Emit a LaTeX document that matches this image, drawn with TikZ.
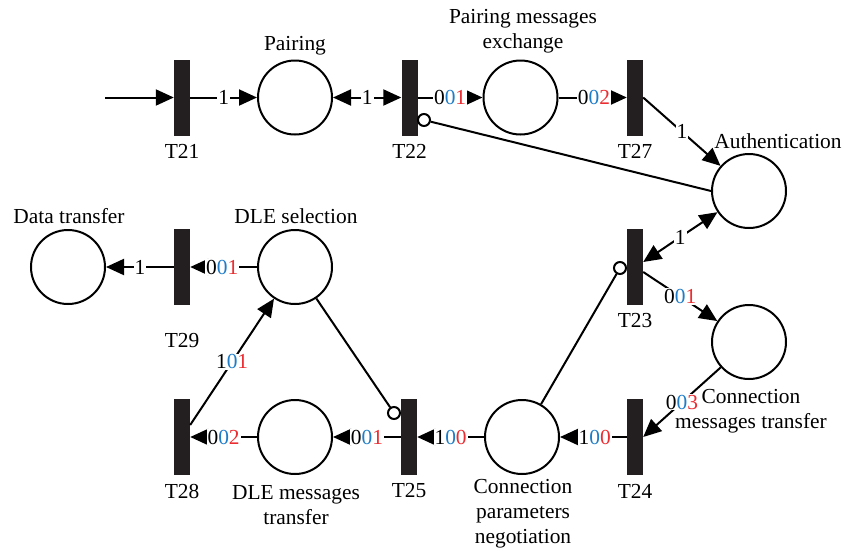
\documentclass[tikz,border=0pt]{standalone}
\usepackage{fontspec}
\setmainfont{Liberation Serif}
\usetikzlibrary{arrows.meta}
\definecolor{tokblue}{RGB}{30,125,200}
\definecolor{tokred}{RGB}{235,45,50}
\definecolor{barcol}{RGB}{35,31,32}
% three-digit token count: black, blue, red
\newcommand\tok[3]{#1\textcolor{tokblue}{#2}\textcolor{tokred}{#3}}

\begin{document}
\begin{tikzpicture}[x=1pt,y=-1pt,
  font=\fontsize{21.4}{25}\selectfont,
  place/.style={circle,draw,line width=2pt,minimum size=74pt,inner sep=0pt},
  trans/.style={rectangle,fill=barcol,minimum width=16pt,minimum height=76pt,inner sep=0pt},
  inhib/.style={circle,draw,line width=2pt,minimum size=12pt,inner sep=0pt,fill=white},
  tip/.tip={Triangle[length=18pt,width=16pt]},
  arc/.style={line width=2pt,-tip},
  barc/.style={line width=2pt,tip-tip},
  plain/.style={line width=2pt},
  w/.style={fill=white,inner sep=1pt},
  txt/.style={align=center,inner sep=0pt}]

\useasboundingbox (0,0) rectangle (844,550);

% places
\node[place] (Pair) at (295,97.5) {};
\node[place] (PME)  at (520.5,97.5) {};
\node[place] (Auth) at (749,191) {};
\node[place] (Data) at (68,267) {};
\node[place] (DSel) at (295,267) {};
\node[place] (CMT)  at (749,342) {};
\node[place] (DMT)  at (295,437) {};
\node[place] (CPN)  at (522,437) {};

% transitions
\node[trans] (T21) at (182,97.5) {};
\node[trans] (T22) at (409.5,97.5) {};
\node[trans] (T27) at (635,97.5) {};
\node[trans] (T29) at (182,267) {};
\node[trans] (T23) at (635,267) {};
\node[trans] (T28) at (182,437) {};
\node[trans] (T25) at (409,437) {};
\node[trans] (T24) at (635,437) {};

% transition names
\node[txt] (lT21) at (182,151) {T21};
\node[txt] (lT22) at (409.5,151) {T22};
\node[txt] (lT27) at (635,151) {T27};
\node[txt] (lT29) at (182,341) {T29};
\node[txt] (lT23) at (635,321) {T23};
\node[txt] (lT28) at (182,491) {T28};
\node[txt] (lT25) at (409,491) {T25};
\node[txt] (lT24) at (635,491) {T24};

% place names
\node[txt] (lPair) at (295,46) {Pairing};
\node[txt] (lPME)  at (523,31.5) {Pairing messages\\exchange};
\node[txt] (lAuth) at (778,141) {Authentication};
\node[txt] (lData) at (69,216) {Data transfer};
\node[txt] (lDSel) at (296,216) {DLE selection};
\node[txt] (lCMT)  at (751,411) {Connection\\messages transfer};
\node[txt] (lDMT)  at (296,505.5) {DLE messages\\transfer};
\node[txt] (lCPN)  at (523,514) {Connection\\parameters\\negotiation};

% inhibitor ends
\node[inhib] (i22) at (424,120) {};
\node[inhib] (i23) at (620,268) {};
\node[inhib] (i25) at (394,413) {};

% arcs, top row
\coordinate (src) at (105,97.5);
\draw[arc] (src) -- (T21);
\draw[arc] (T21) -- node[w]{1} (Pair);
\draw[barc] (Pair) -- node[w]{1} (T22);
\draw[arc] (T22) -- node[w]{\tok001} (PME);
\draw[arc] (PME) -- node[w,pos=0.52]{\tok002} (T27);
\draw[arc] (T27.east) -- node[w]{1} (Auth);
\draw[plain] (Auth.west) -- (i22);

% arcs, right side
\draw[barc] ([yshift=5pt]T23.east) -- node[w]{1} (Auth);
\draw[arc] ([yshift=-5pt]T23.east) -- node[w]{\tok001} (CMT);
\draw[arc] (CMT) -- node[w]{\tok003} (T24.east);
\draw[plain] (CPN) -- (i23);

% arcs, bottom row
\draw[arc] (T24) -- node[w,pos=0.48]{\tok100} (CPN);
\draw[arc] (CPN) -- node[w]{\tok100} (T25);
\draw[arc] (T25) -- node[w]{\tok001} (DMT);
\draw[arc] (DMT) -- node[w]{\tok002} (T28);
\draw[plain] (DSel) -- (i25);
\draw[arc] ([yshift=12pt]T28.east) -- node[w]{\tok101} (DSel);

% arcs, left side
\draw[arc] (DSel) -- node[w,pos=0.52]{\tok001} (T29);
\draw[arc] (T29) -- node[w]{1} (Data);

\end{tikzpicture}
\end{document}
